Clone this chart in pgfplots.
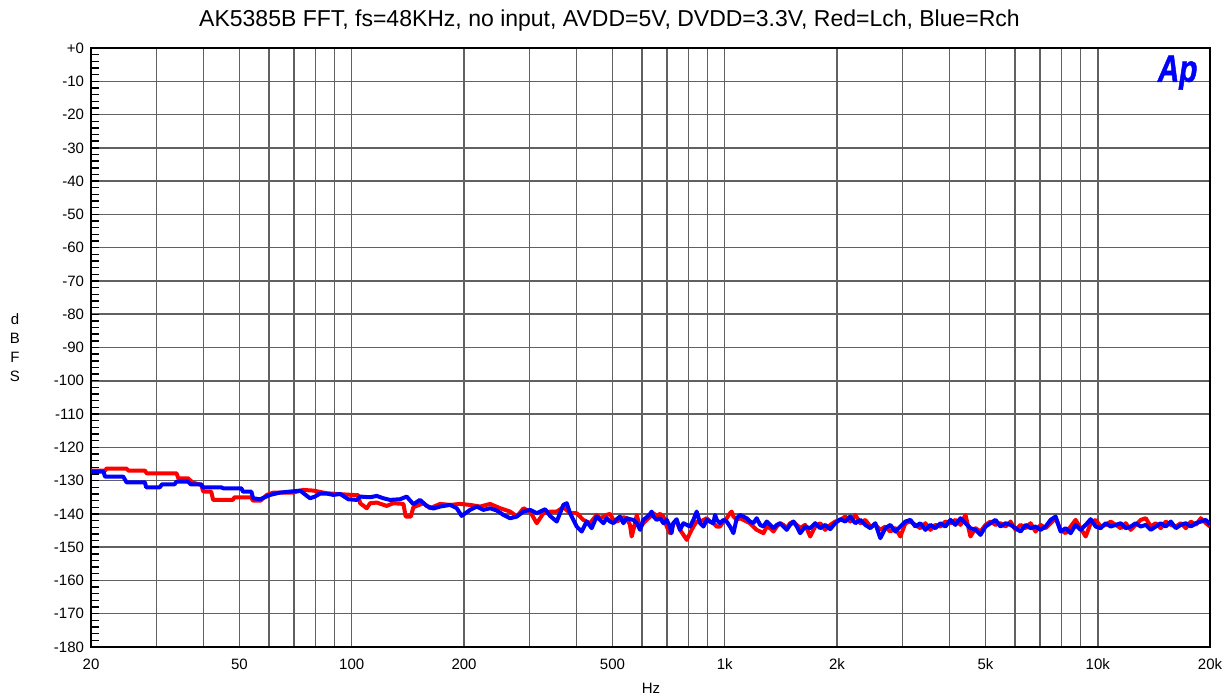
\documentclass[border=0pt]{standalone}
\usepackage{fontspec}
\setmainfont{Liberation Sans}
\newfontfamily\logofont[FakeBold=1.5]{Liberation Sans Bold Italic}
\usepackage{pgfplots}
\usepackage{pgfplotstable}
\pgfplotsset{compat=1.18}

% Left channel FFT noise floor (Hz, dBFS)
\pgfplotstableread{
f dB
20 -127.0
21.8 -127.0
22.0 -126.4
24.9 -126.4
25.2 -127.0
27.9 -127.0
28.2 -127.8
33.9 -127.8
34.3 -129.3
36.4 -129.3
37.5 -130.6
39.5 -131.3
40.0 -133.3
42.0 -133.3
42.5 -135.8
48.0 -135.8
48.5 -135.0
53.8 -135.0
54.3 -136.0
57.0 -136.0
59.2 -134.3
61.6 -133.6
69.7 -133.6
74.1 -132.8
78.9 -133.0
85.7 -133.8
97.0 -134.2
104.2 -134.4
105.3 -136.8
109.7 -138.3
112.0 -136.8
116.7 -136.6
124.1 -137.6
129.3 -136.8
137.6 -137.0
139.5 -140.8
144.0 -140.8
146.3 -138.0
155.6 -136.8
162.1 -138.3
172.5 -137.0
183.5 -137.3
195.1 -137.0
207.6 -137.3
220.8 -137.8
234.9 -137.0
250.0 -138.3
265.9 -139.3
277.1 -140.8
288.7 -138.3
300.7 -139.3
313.4 -142.8
326.5 -139.8
340.2 -139.3
354.5 -139.3
369.3 -138.0
384.9 -139.8
400.9 -139.8
417.6 -141.8
435.3 -142.8
453.6 -140.3
463 -141.3
473 -140.8
482.6 -140.3
492.7 -140.0
502.9 -141.8
513.4 -142.3
524 -141.8
535 -141.0
546 -141.3
557 -143.3
563 -146.8
569 -144.8
581 -140.3
593 -144.3
605 -142.8
618 -141.8
631 -140.8
644 -139.8
657 -140.6
671 -140.0
685 -140.8
699 -143.8
713 -145.8
728 -142.8
743 -142.3
759 -144.8
775 -146.3
791 -147.8
807 -145.8
824 -143.8
841 -142.3
859 -142.3
877 -141.8
895 -141.3
913 -142.3
932 -142.8
952 -143.8
971 -143.8
992 -142.3
1012 -141.3
1033 -139.8
1044 -139.3
1055 -140.8
1077 -141.8
1099 -141.3
1122 -141.8
1145 -142.3
1169 -142.8
1193 -143.8
1218 -144.8
1244 -145.3
1270 -145.8
1296 -143.8
1323 -144.3
1351 -145.3
1379 -143.8
1407 -142.8
1437 -143.3
1466 -144.3
1497 -142.8
1528 -142.3
1560 -143.3
1593 -144.3
1643 -143.3
1695 -146.8
1748 -143.8
1803 -142.8
1859 -144.8
1918 -143.3
1978 -142.3
2040 -141.8
2104 -140.8
2170 -142.3
2238 -140.3
2309 -142.8
2381 -141.8
2456 -143.8
2533 -143.3
2613 -144.8
2695 -143.8
2779 -145.3
2867 -144.3
2957 -146.8
3050 -142.8
3145 -142.3
3244 -143.3
3346 -144.3
3451 -142.8
3559 -144.8
3671 -143.3
3786 -143.8
3905 -142.3
4028 -142.8
4154 -141.8
4285 -143.3
4419 -140.3
4558 -146.8
4701 -144.3
4849 -145.3
5001 -143.3
5158 -142.3
5320 -143.3
5487 -142.8
5659 -143.8
5837 -142.3
6020 -144.8
6209 -143.3
6404 -144.3
6605 -142.8
6813 -145.3
7027 -143.3
7247 -144.3
7475 -142.8
7710 -141.3
7952 -144.8
8201 -145.8
8459 -143.8
8724 -141.8
8998 -144.3
9281 -146.8
9572 -142.8
9873 -141.8
10183 -143.8
10503 -143.3
10832 -142.3
11172 -143.3
11523 -144.3
11885 -142.8
12258 -144.8
12643 -143.3
13040 -141.8
13450 -141.3
13872 -143.8
14308 -142.8
14757 -144.3
15220 -142.3
15698 -143.3
16191 -143.8
16700 -142.8
17224 -144.3
17765 -142.3
18323 -143.3
18898 -141.3
19492 -142.8
20000 -143.8
}\lch

% Right channel FFT noise floor (Hz, dBFS)
\pgfplotstableread{
f dB
20 -127.3
21.6 -127.3
21.8 -128.8
24.4 -128.8
24.9 -130.5
27.9 -130.5
28.1 -132.0
30.6 -132.0
31.0 -131.1
33.5 -131.1
33.9 -130.3
36.4 -130.3
37.0 -131.1
39.5 -131.1
39.9 -132.0
44.7 -132.0
45.2 -132.3
50.6 -132.3
51.1 -133.3
53.8 -133.3
54.4 -135.3
56.8 -135.6
60.4 -134.3
64.2 -133.6
72.7 -133.0
77.3 -135.3
79.7 -134.8
82.2 -133.9
85.7 -133.9
89.3 -134.3
93.1 -134.0
97.9 -135.6
103.2 -135.8
105.3 -134.8
112.0 -135.0
116.7 -134.6
121.5 -135.3
126.6 -135.8
134.7 -135.6
140.4 -134.8
146.3 -137.1
152.4 -135.8
158.9 -137.6
165.5 -138.4
172.5 -137.8
183.5 -137.3
191.2 -138.3
197.1 -140.6
207.6 -138.8
216.3 -137.8
225.4 -138.8
234.9 -138.3
244.8 -139.0
255.1 -140.3
265.9 -141.3
277.1 -140.8
288.7 -139.3
300.7 -138.8
313.4 -139.8
329.9 -138.6
340.2 -140.6
354.5 -142.3
369.3 -137.3
377.1 -136.8
384.9 -139.8
400.9 -143.8
413.5 -145.3
426.4 -142.3
439.8 -144.3
453.6 -140.8
463 -141.8
473 -142.8
482.6 -141.3
492.7 -142.3
502.9 -142.8
513.4 -141.6
524 -140.8
535 -142.8
546 -141.3
557 -141.6
569 -141.8
581 -142.8
593 -144.8
605 -141.8
618 -141.0
631 -140.0
637 -139.3
644 -140.8
657 -141.8
671 -141.3
685 -142.8
699 -141.8
713 -143.8
720 -145.8
728 -142.8
743 -141.6
759 -144.8
775 -142.8
791 -143.3
807 -143.8
824 -141.8
841 -139.3
859 -142.8
877 -143.8
895 -141.8
913 -142.3
932 -142.8
942 -140.3
952 -141.8
971 -142.8
992 -141.8
1012 -142.3
1033 -143.8
1055 -145.8
1077 -141.3
1099 -140.3
1122 -140.8
1145 -141.3
1169 -142.3
1193 -142.8
1218 -141.3
1244 -143.3
1270 -143.8
1296 -142.3
1323 -143.3
1351 -144.3
1379 -143.3
1407 -142.8
1437 -143.8
1466 -144.8
1497 -143.3
1528 -142.3
1560 -143.8
1593 -145.8
1643 -143.8
1695 -144.3
1748 -142.8
1803 -144.3
1859 -143.3
1918 -144.6
1978 -142.8
2040 -141.6
2104 -142.3
2170 -140.8
2238 -142.8
2309 -141.8
2381 -143.3
2456 -144.3
2533 -142.8
2613 -147.3
2695 -144.3
2779 -143.3
2867 -145.3
2957 -143.8
3050 -142.3
3145 -141.8
3244 -143.8
3346 -142.8
3451 -144.8
3559 -143.3
3671 -144.3
3786 -142.8
3905 -143.8
4028 -141.8
4154 -143.3
4285 -141.3
4419 -142.8
4558 -144.3
4701 -144.8
4849 -146.3
5001 -143.8
5158 -142.8
5320 -141.8
5487 -143.8
5659 -142.8
5837 -143.3
6020 -144.3
6209 -145.3
6404 -143.3
6605 -144.3
6813 -143.8
7027 -144.8
7247 -143.8
7475 -141.8
7710 -140.8
7952 -145.3
8201 -144.3
8459 -145.8
8724 -143.3
8998 -144.8
9281 -143.3
9572 -141.6
9873 -143.8
10183 -144.3
10503 -142.8
10832 -143.8
11172 -143.3
11523 -142.8
11885 -144.3
12258 -143.8
12643 -142.8
13040 -143.8
13450 -143.3
13872 -144.8
14308 -143.8
14757 -142.8
15220 -143.8
15698 -142.3
16191 -144.3
16700 -143.3
17224 -142.8
17765 -143.8
18323 -142.8
18898 -142.3
19492 -141.8
20000 -143.3
}\rch

\begin{document}
\begin{tikzpicture}
\useasboundingbox (-45.5pt,-25.5pt) rectangle (565.5pt,323.5pt);
\begin{axis}[
  at={(0,0)}, anchor=south west,
  scale only axis, width=559.5pt, height=299.5pt,
  xmode=log, xmin=20, xmax=20000, ymin=-180, ymax=0,
  xtick={20,50,100,200,500,1000,2000,5000,10000,20000},
  xticklabels={20,50,100,200,500,1k,2k,5k,10k,20k},
  minor xtick={30,40,60,70,80,90,300,400,600,700,800,900,3000,4000,6000,7000,8000,9000},
  ytick={-180,-170,...,0},
  yticklabels={-180,-170,-160,-150,-140,-130,-120,-110,-100,-90,-80,-70,-60,-50,-40,-30,-20,-10,+0},
  minor ytick={-178,-176,...,-2},
  xmajorgrids, xminorgrids, ymajorgrids,
  grid style={black!62, line width=0.75pt},
  minor grid style={black!62, line width=0.75pt},
  axis line style={line width=1.1pt},
  tick align=inside, ytick pos=left, xtick pos=bottom,
  xtick style={draw=none},
  ytick style={black, line width=0.7pt},
  major tick length=4pt, minor tick length=4pt,
  tick label style={font=\fontsize{7.5}{8.5}\selectfont},
  xticklabel style={yshift=-2.5pt},
]
\addplot[red, line width=2pt, line join=round] table[x=f, y=dB] {\lch};
\addplot[blue, line width=2pt, line join=round] table[x=f, y=dB] {\rch};
\node[anchor=north east, text=blue, inner sep=0pt, xscale=0.78,
      font=\fontsize{19}{19}\logofont]
  at (rel axis cs:0.989,0.988) {Ap};
\end{axis}
\node[font=\fontsize{11.5}{13}\selectfont] at (259.25pt,313pt)
  {AK5385B FFT, fs=48KHz, no input, AVDD=5V, DVDD=3.3V, Red=Lch, Blue=Rch};
\node[font=\fontsize{7.5}{8.5}\selectfont] at (280pt,-20.5pt) {Hz};
\node[align=center, inner sep=0pt, font=\fontsize{7.5}{9.5}\selectfont]
  at (-38pt,149.75pt) {d\\B\\F\\S};
\end{tikzpicture}
\end{document}
